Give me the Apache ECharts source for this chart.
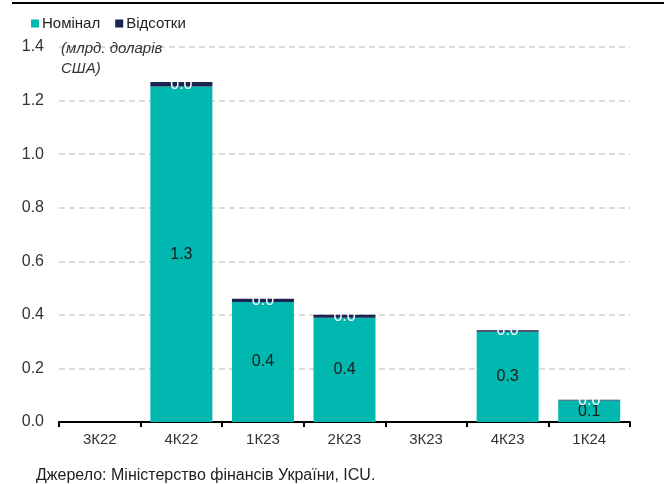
<!DOCTYPE html>
<html><head><meta charset="utf-8">
<script src="https://cdn.jsdelivr.net/npm/echarts@6/dist/echarts.min.js"></script>
<style>html,body{margin:0;padding:0;background:#fff}#c{width:664px;height:484px}</style>
</head><body><div id="c"></div>
<script>
const categories = ['3К22','4К22','1К23','2К23','3К23','4К23','1К24'];
const nominal = [0, 1.253, 0.448, 0.389, 0, 0.337, 0.08];
const interest = [0, 0.016, 0.012, 0.011, 0, 0.006, 0.003];
const yTicks = [0,0.2,0.4,0.6,0.8,1.0,1.2,1.4];
const FONT = '"Liberation Sans Narrow","Liberation Sans",Arial,sans-serif';
const TEAL = '#00B8B0', NAVY = '#1B2350';
const chart = echarts.init(document.getElementById('c'));
chart.setOption({
  animation:false,
  textStyle:{fontFamily:FONT},
  title:[
    {text:'Джерело: Міністерство фінансів України, ICU.', left:31, top:463,
     textStyle:{fontFamily:FONT,fontSize:16,fontWeight:'normal',color:'#222'}},
    {text:'(млрд. доларів\nСША)', left:56, top:34,
     textStyle:{fontFamily:FONT,fontSize:15,fontStyle:'italic',fontWeight:'normal',color:'#333',lineHeight:20}}
  ],
  legend:{left:26, top:11, itemWidth:8, itemHeight:8, itemGap:15, icon:'rect',
    textStyle:{fontFamily:FONT,fontSize:15,color:'#222',padding:[0,0,0,-2]},
    data:['Номінал','Відсотки']},
  graphic:[{type:'line', shape:{x1:12,y1:3,x2:664,y2:3}, style:{stroke:'#000',lineWidth:2}}],
  grid:{left:59, right:34, top:47, bottom:62},
  xAxis:{type:'category', data:categories,
    axisLine:{lineStyle:{color:'#000',width:2}},
    axisTick:{show:true,length:5,lineStyle:{color:'#000',width:2}},
    axisLabel:{fontFamily:FONT,fontSize:15,color:'#333',margin:10}},
  yAxis:{type:'value', min:0, max:1.4, interval:0.2,
    axisLine:{show:false}, axisTick:{show:false},
    axisLabel:{fontFamily:FONT,fontSize:16,color:'#333',margin:15,
      formatter:v=>v.toFixed(1)},
    splitLine:{lineStyle:{color:'#cfcfcf',type:[6,4],width:1.5}}},
  series:[
    {name:'Номінал', type:'bar', stack:'s', data:nominal, barWidth:'76%',
     itemStyle:{color:TEAL},
     label:{show:true, position:'inside', fontFamily:FONT, fontSize:16, color:'#1a1a1a',
       formatter:p=>p.value>0?p.value.toFixed(1):''}},
    {name:'Відсотки', type:'bar', stack:'s', data:interest, barWidth:'76%',
     itemStyle:{color:NAVY},
     label:{show:true, position:'inside', fontFamily:FONT, fontSize:16, color:'#fff',
       formatter:p=>p.value>0?p.value.toFixed(1):''}}
  ]
});
</script></body></html>
